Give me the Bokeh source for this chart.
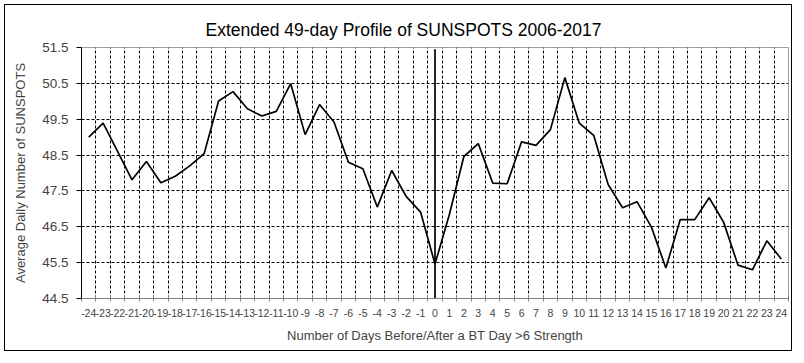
from bokeh.plotting import figure
from bokeh.models import Range1d, FixedTicker, Title
from bokeh.embed import file_html
from bokeh.resources import INLINE

days = list(range(-24, 25))
sunspots = [49.00, 49.39, 48.60, 47.81, 48.32, 47.73, 47.91, 48.20, 48.54, 50.01,
            50.27, 49.79, 49.59, 49.72, 50.49, 49.07, 49.91, 49.42, 48.30, 48.12,
            47.05, 48.07, 47.35, 46.91, 45.46, 46.85, 48.46, 48.82, 47.72, 47.70,
            48.87, 48.77, 49.21, 50.66, 49.39, 49.05, 47.68, 47.03, 47.20, 46.49,
            45.35, 46.70, 46.70, 47.31, 46.63, 45.43, 45.30, 46.11, 45.60]
y_ticks = [44.5, 45.5, 46.5, 47.5, 48.5, 49.5, 50.5, 51.5]
bt_day = 0
title_text = "Extended 49-day Profile of SUNSPOTS  2006-2017"
x_label = "Number of Days Before/After a BT Day >6 Strength"
y_label = "Average Daily Number of SUNSPOTS"

FONT = "Liberation Sans"

p = figure(width=796, height=355, output_backend="svg", toolbar_location=None,
           x_range=Range1d(days[0] - 0.5, days[-1] + 0.5),
           y_range=Range1d(y_ticks[0], y_ticks[-1]),
           min_border_left=81, min_border_right=8, min_border_top=47, min_border_bottom=57)
p.styles = {"outline": "1px solid black", "outline-offset": "-5px", "background-color": "white"}

t = Title(text=title_text, align="left", offset=124, text_font=FONT, text_font_size="17.5px",
          text_font_style="normal", text_color="#000000", standoff=15)
p.add_layout(t, "above")

p.outline_line_color = "#a0a0a0"
p.outline_line_width = 1
p.background_fill_color = "white"
p.border_fill_color = None

# x axis
p.xaxis.ticker = FixedTicker(ticks=days, minor_ticks=[d - 0.5 for d in days] + [days[-1] + 0.5])
p.xaxis.major_label_overrides = {d: str(d) for d in days}
p.xaxis.axis_line_color = "#808080"
p.xaxis.major_tick_line_color = None
p.xaxis.minor_tick_line_color = "#808080"
p.xaxis.minor_tick_in = 3
p.xaxis.minor_tick_out = 3
p.xaxis.major_label_text_font = FONT
p.xaxis.major_label_text_font_size = "10.5px"
p.xaxis.major_label_standoff = 4
p.xaxis.axis_label = x_label
p.xaxis.axis_label_text_font = FONT
p.xaxis.axis_label_text_font_size = "13px"
p.xaxis.axis_label_text_font_style = "normal"
p.xaxis.axis_label_standoff = 8

# y axis
p.yaxis.ticker = FixedTicker(ticks=y_ticks, minor_ticks=[])
p.yaxis.axis_line_color = "black"
p.yaxis.major_tick_line_color = "black"
p.yaxis.major_tick_in = 0
p.yaxis.major_tick_out = 5
p.yaxis.minor_tick_line_color = None
p.yaxis.major_label_text_font = FONT
p.yaxis.major_label_text_font_size = "13.5px"
p.yaxis.major_label_standoff = 8
p.yaxis.axis_label = y_label
p.yaxis.axis_label_text_font = FONT
p.yaxis.axis_label_text_font_size = "13px"
p.yaxis.axis_label_text_font_style = "normal"
p.yaxis.axis_label_standoff = 11

# grids
p.xgrid.grid_line_color = None
p.xgrid.minor_grid_line_color = "black"
p.xgrid.minor_grid_line_dash = "3 2"
p.xgrid.minor_grid_line_width = 1
p.ygrid.grid_line_color = "black"
p.ygrid.grid_line_dash = "3 2"
p.ygrid.grid_line_width = 1

p.line(days, sunspots, line_color="black", line_width=1.7)
p.line([bt_day, bt_day], [y_ticks[0], y_ticks[-1] - 0.05], line_color="black", line_width=1.7)

open("out.html", "w").write(file_html(p, INLINE))
